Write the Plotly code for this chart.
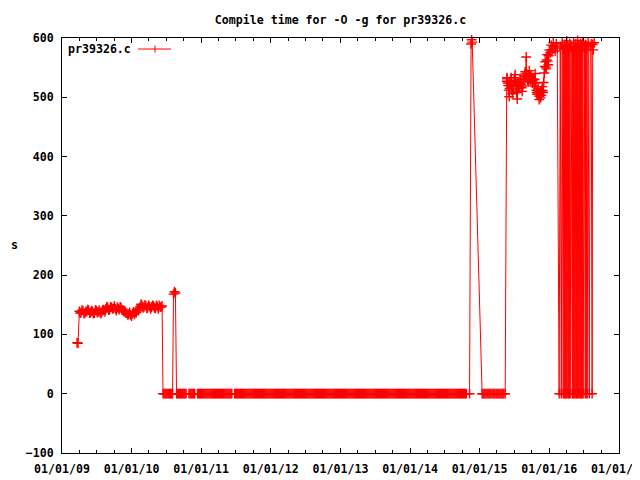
import pandas as pd
import plotly.graph_objects as go

START = "2009-01-01"
TITLE = "Compile time for -O -g for pr39326.c"
SERIES = "pr39326.c"
Y_LABEL = "s"

# day offsets from 2009-01-01 and compile times (s)
band1_days = [79, 84, 91, 95, 100, 105, 110, 115, 120, 125,
              130, 135, 140, 145, 150, 155, 160, 165, 170, 175,
              180, 185, 190, 195, 200, 205, 210, 215, 220, 225,
              230, 235, 240, 245, 250, 255, 260, 265, 270, 275,
              280, 285, 290, 295, 300, 305, 310, 315, 320, 325,
              330, 335, 340, 345, 350, 355, 360, 365, 370, 375,
              380, 385, 390, 395, 400, 405, 410, 415, 420, 425,
              430, 435, 440, 445, 450, 455, 460, 465, 470, 475,
              480, 485, 490, 495, 500, 505, 510, 515, 520, 525]
band1_vals = [86, 85, 139, 136, 137, 141, 140, 135, 136, 139,
              138, 142, 141, 136, 137, 140, 139, 135, 136, 141,
              140, 137, 138, 141, 137, 135, 139, 142, 141, 138,
              143, 147, 145, 141, 142, 146, 146, 143, 144, 148,
              143, 140, 146, 144, 142, 147, 145, 141, 141, 138,
              139, 136, 136, 133, 134, 137, 133, 131, 135, 138,
              134, 137, 137, 141, 140, 144, 147, 151, 149, 145,
              146, 150, 148, 144, 145, 149, 147, 143, 146, 149,
              148, 145, 144, 149, 147, 143, 149, 146, 146, 148]

zero1_days = [530, 535, 540, 545, 550, 555, 560, 565, 570, 575, 580]
zero1_vals = [0, 0, 0, 0, 0, 0, 0, 0, 0, 0, 0]

spike1_days = [585, 590, 595]
spike1_vals = [168, 172, 170]

zero2_days = [
    601, 606, 611, 616, 621, 626, 631, 636, 641, 646, 651, 666, 671, 676, 681, 686, 691, 696,
    711, 716, 721, 726, 731, 736, 741, 746, 751, 756, 761, 766, 771, 776, 781, 786, 791, 796,
    801, 806, 811, 816, 821, 826, 831, 836, 841, 846, 851, 856, 861, 866, 871, 876, 881, 886, 891,
    906, 911, 916, 921, 926, 931, 936, 941, 946, 951, 956, 961, 966, 971, 976, 981, 986, 991, 996,
    1001, 1006, 1011, 1016, 1021, 1026, 1031, 1036, 1041, 1046, 1051, 1056, 1061, 1066, 1071, 1076, 1081, 1086, 1091, 1096,
    1101, 1106, 1111, 1116, 1121, 1126, 1131, 1136, 1141, 1146, 1151, 1156, 1161, 1166, 1171, 1176, 1181, 1186, 1191, 1196,
    1201, 1206, 1211, 1216, 1221, 1226, 1231, 1236, 1241, 1246, 1251, 1256, 1261, 1266, 1271, 1276, 1281, 1286, 1291, 1296,
    1301, 1306, 1311, 1316, 1321, 1326, 1331, 1336, 1341, 1346, 1351, 1356, 1361, 1366, 1371, 1376, 1381, 1386, 1391, 1396,
    1401, 1406, 1411, 1416, 1421, 1426, 1431, 1436, 1441, 1446, 1451, 1456, 1461, 1466, 1471, 1476, 1481, 1486, 1491, 1496,
    1501, 1506, 1511, 1516, 1521, 1526, 1531, 1536, 1541, 1546, 1551, 1556, 1561, 1566, 1571, 1576, 1581, 1586, 1591, 1596,
    1601, 1606, 1611, 1616, 1621, 1626, 1631, 1636, 1641, 1646, 1651, 1656, 1661, 1666, 1671, 1676, 1681, 1686, 1691, 1696,
    1701, 1706, 1711, 1716, 1721, 1726, 1731, 1736, 1741, 1746, 1751, 1756, 1761, 1766, 1771, 1776, 1781, 1786, 1791, 1796,
    1801, 1806, 1811, 1816, 1821, 1826, 1831, 1836, 1841, 1846, 1851, 1856, 1861, 1866, 1871, 1876, 1881, 1886, 1891, 1896,
    1901, 1906, 1911, 1916, 1921, 1926, 1931, 1936, 1941, 1946, 1951, 1956, 1961, 1966, 1971, 1976, 1981, 1986, 1991, 1996,
    2001, 2006, 2011, 2016, 2021, 2026, 2031, 2036, 2041, 2046, 2051, 2056, 2061, 2066, 2071, 2076, 2081, 2086, 2091, 2096,
    2101, 2106, 2111, 2116, 2121, 2138]
zero2_vals = [
    0, 0, 0, 0, 0, 0, 0, 0, 0, 0, 0, 0, 0, 0, 0, 0, 0, 0,
    0, 0, 0, 0, 0, 0, 0, 0, 0, 0, 0, 0, 0, 0, 0, 0, 0, 0,
    0, 0, 0, 0, 0, 0, 0, 0, 0, 0, 0, 0, 0, 0, 0, 0, 0, 0, 0,
    0, 0, 0, 0, 0, 0, 0, 0, 0, 0, 0, 0, 0, 0, 0, 0, 0, 0, 0,
    0, 0, 0, 0, 0, 0, 0, 0, 0, 0, 0, 0, 0, 0, 0, 0, 0, 0, 0, 0,
    0, 0, 0, 0, 0, 0, 0, 0, 0, 0, 0, 0, 0, 0, 0, 0, 0, 0, 0, 0,
    0, 0, 0, 0, 0, 0, 0, 0, 0, 0, 0, 0, 0, 0, 0, 0, 0, 0, 0, 0,
    0, 0, 0, 0, 0, 0, 0, 0, 0, 0, 0, 0, 0, 0, 0, 0, 0, 0, 0, 0,
    0, 0, 0, 0, 0, 0, 0, 0, 0, 0, 0, 0, 0, 0, 0, 0, 0, 0, 0, 0,
    0, 0, 0, 0, 0, 0, 0, 0, 0, 0, 0, 0, 0, 0, 0, 0, 0, 0, 0, 0,
    0, 0, 0, 0, 0, 0, 0, 0, 0, 0, 0, 0, 0, 0, 0, 0, 0, 0, 0, 0,
    0, 0, 0, 0, 0, 0, 0, 0, 0, 0, 0, 0, 0, 0, 0, 0, 0, 0, 0, 0,
    0, 0, 0, 0, 0, 0, 0, 0, 0, 0, 0, 0, 0, 0, 0, 0, 0, 0, 0, 0,
    0, 0, 0, 0, 0, 0, 0, 0, 0, 0, 0, 0, 0, 0, 0, 0, 0, 0, 0, 0,
    0, 0, 0, 0, 0, 0, 0, 0, 0, 0, 0, 0, 0, 0, 0, 0, 0, 0, 0, 0,
    0, 0, 0, 0, 0, 0]

spike2_days = [2146, 2149, 2152]
spike2_vals = [590, 597, 593]

zero3_days = [2204, 2209, 2214, 2219, 2224, 2230, 2235, 2240, 2245, 2250, 2256, 2261,
              2266, 2271, 2277, 2282, 2287, 2292, 2298, 2303, 2308, 2313, 2318, 2325]
zero3_vals = [0, 0, 0, 0, 0, 0, 0, 0, 0, 0, 0, 0,
              0, 0, 0, 0, 0, 0, 0, 0, 0, 0, 0, 0]

blob_days = [2333, 2334, 2335, 2338, 2341, 2343, 2346, 2348, 2351, 2353,
             2356, 2359, 2362, 2364, 2367, 2369, 2372, 2375, 2377, 2380,
             2383, 2385, 2388, 2390, 2393, 2396, 2398, 2401, 2404, 2406,
             2409, 2411, 2414, 2417, 2419, 2422, 2425, 2427, 2430, 2432,
             2435, 2438, 2440, 2443, 2446, 2448, 2451, 2453, 2456, 2459,
             2461, 2464, 2467, 2469, 2472, 2474, 2477, 2480, 2482, 2485,
             2488, 2490, 2493, 2495, 2498, 2501, 2503, 2506, 2509, 2511,
             2514, 2516, 2519, 2522, 2524, 2527, 2530, 2532, 2535, 2538,
             2540, 2543, 2545, 2548, 2551, 2553, 2556]
blob_vals = [527, 533, 531, 524, 520, 512, 501, 515, 524, 529,
             533, 518, 506, 509, 512, 521, 528, 533, 538, 527,
             518, 508, 497, 512, 525, 520, 515, 523, 530, 526,
             522, 516, 510, 519, 526, 531, 535, 539, 543, 536,
             568, 540, 532, 529, 526, 537, 545, 536, 528, 533,
             538, 530, 524, 528, 531, 525, 519, 530, 540, 524,
             512, 508, 505, 511, 515, 502, 496, 505, 510, 499,
             503, 512, 518, 511, 508, 525, 541, 552, 560, 551,
             548, 563, 572, 561, 555, 570, 580]

final_days = [2561, 2566, 2572, 2577, 2582, 2587, 2593, 2598, 2608, 2614,
              2619, 2624, 2629, 2632, 2635, 2637, 2640, 2642, 2645, 2648,
              2650, 2653, 2656, 2658, 2661, 2664, 2666, 2671, 2677, 2679,
              2682, 2684, 2687, 2690, 2692, 2695, 2698, 2700, 2703, 2705,
              2708, 2711, 2713, 2716, 2719, 2721, 2724, 2726, 2729, 2732,
              2734, 2740, 2745, 2747, 2750, 2753, 2755, 2760, 2766, 2771,
              2776, 2781, 2784, 2787, 2792]
final_vals = [575, 588, 580, 592, 585, 578, 590, 583, 0, 586,
              0, 592, 0, 581, 0, 589, 0, 584, 0, 595,
              0, 587, 0, 580, 0, 591, 0, 586, 0, 578,
              0, 593, 0, 584, 0, 590, 0, 582, 0, 596,
              0, 588, 0, 579, 0, 591, 0, 585, 0, 594,
              0, 583, 0, 589, 0, 580, 0, 592, 0, 586,
              590, 0, 589, 580, 592]

y_ticks = [-100, 0, 100, 200, 300, 400, 500, 600]
x_range = ["2009-01-01", "2017-01-01"]

days = (band1_days + zero1_days + spike1_days + zero2_days + spike2_days
        + zero3_days + blob_days + final_days)
vals = (band1_vals + zero1_vals + spike1_vals + zero2_vals + spike2_vals
        + zero3_vals + blob_vals + final_vals)
assert len(days) == len(vals), (len(days), len(vals))
dates = pd.Timestamp(START) + pd.to_timedelta(days, unit="D")

RED = "#ff0000"
FONT = dict(family="DejaVu Sans Mono", size=11.6, color="black", weight="bold")

fig = go.Figure()
fig.add_trace(go.Scatter(
    x=dates, y=vals, mode="lines+markers",
    line=dict(color=RED, width=1),
    marker=dict(symbol="cross-thin", size=7, color=RED,
                line=dict(color=RED, width=1.4)),
    cliponaxis=False, showlegend=False,
))

# page body has an 8px default margin: place everything in window pixels
OX, OY = 8, 8
W, H = 640, 480
PL, PR, PT, PB = 62, 619, 38, 453          # plot box in window pixels
pw, ph = PR - PL, PB - PT


def px(x):
    return (x - PL) / pw


def py(y):
    return (PB - y) / ph


fig.update_layout(
    width=W, height=H,
    margin=dict(l=PL - OX, r=W + OX - PR, t=PT - OY, b=H + OY - PB, pad=0),
    paper_bgcolor="white", plot_bgcolor="white",
    font=FONT,
    title=dict(text=TITLE, x=0.5, xref="paper", y=1 - (19.5 - OY) / H, yref="container",
               xanchor="center", yanchor="middle", font=FONT),
    xaxis=dict(
        type="date", range=x_range, tickformat="%m/%d/%y", automargin=False,
        dtick="M12", tick0=START, ticks="inside", ticklen=5, tickcolor="black",
        showline=True, linecolor="black", linewidth=1, mirror="allticks",
        showgrid=False, zeroline=False, tickfont=FONT, ticklabelstandoff=5,
        minor=dict(ticks="inside", ticklen=3, dtick="M3", tick0=START,
                   tickcolor="black", showgrid=False),
    ),
    yaxis=dict(
        range=[-100, 600], tickvals=y_ticks, ticks="inside", ticklen=5,
        automargin=False, ticklabelstandoff=5,
        tickcolor="black", showline=True, linecolor="black", linewidth=1,
        mirror="allticks", showgrid=False, zeroline=False, tickfont=FONT,
    ),
    annotations=[
        dict(text=Y_LABEL, x=px(14), y=py(245), xref="paper", yref="paper",
             showarrow=False, xanchor="center", yanchor="middle", font=FONT),
        dict(text=SERIES, x=px(66), y=py(49), xref="paper", yref="paper",
             showarrow=False, xanchor="left", yanchor="middle", font=FONT),
    ],
    shapes=[
        dict(type="line", xref="paper", yref="paper", x0=px(138), x1=px(171),
             y0=py(49), y1=py(49), line=dict(color=RED, width=1)),
        dict(type="line", xref="paper", yref="paper", x0=px(155), x1=px(155),
             y0=py(45.5), y1=py(52.5), line=dict(color=RED, width=1)),
    ],
)

fig.write_html("out.html")
